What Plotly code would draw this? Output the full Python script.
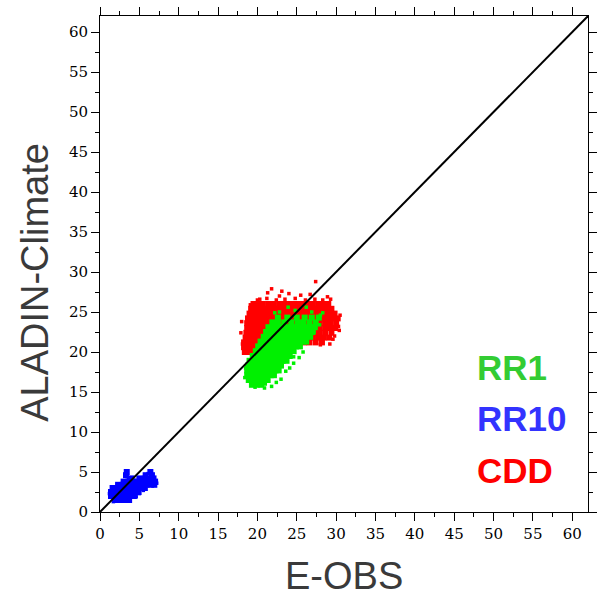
import plotly.graph_objects as go

# ---- data ----
ticks = [0, 5, 10, 15, 20, 25, 30, 35, 40, 45, 50, 55, 60]
diag_x = [0, 62]
diag_y = [0, 62]

# RR10 (blue)
rr10_rows = {
    1.5: [1.9, 2.5, 3.1, 3.7],
    2.0: [1.4, 2.0, 2.6, 3.2, 3.8, 4.3],
    2.5: [1.4, 2.0, 2.6, 3.2, 3.8, 4.4, 4.9],
    3.0: [1.6, 2.2, 2.8, 3.4, 4.0, 4.6, 5.2, 5.7],
    3.4: [2.3, 2.9, 3.5, 4.1, 4.7, 5.3, 5.9, 6.5, 6.9],
    3.8: [3.0, 3.6, 4.2, 4.8, 5.4, 6.0, 6.6, 7.0],
    4.2: [4.0, 5.0, 5.7, 6.3, 6.8],
    4.6: [3.3, 5.8, 6.6],
    5.0: [3.4, 6.4],
}
rr10_fringe_x = [1.2, 1.7, 4.6, 5.0, 5.5, 7.2, 6.1, 2.2, 3.6, 4.8]
rr10_fringe_y = [2.3, 1.3, 1.9, 2.3, 2.7, 3.6, 4.8, 3.4, 4.1, 3.9]

# CDD (red)
cdd_rows = {
    20.0: [18.4, 19.0, 19.6],
    20.6: [18.3, 18.9, 19.5, 20.1],
    21.2: [18.3, 18.9, 19.5, 20.1, 25.9, 26.6, 27.4, 28.2],
    21.8: [18.5, 19.1, 19.7, 20.3, 20.9, 26.3, 27.0, 27.7, 28.4, 29.1],
    22.4: [18.6, 19.2, 19.8, 20.4, 21.0, 26.6, 27.2, 27.9, 28.6, 29.4],
    23.0: [18.7, 19.3, 19.9, 20.5, 21.1, 21.7, 22.5, 23.3, 24.1, 24.9, 25.7, 26.5, 27.2, 27.9, 28.6, 29.3, 29.9],
    23.6: [18.7, 19.3, 19.9, 20.5, 21.1, 21.7, 22.3, 23.0, 23.7, 24.4, 25.1, 25.8, 26.5, 27.2, 27.9, 28.6, 29.3, 30.0],
    24.2: [18.8, 19.4, 20.0, 20.6, 21.2, 21.8, 22.4, 23.0, 23.6, 24.2, 24.8, 25.4, 26.0, 26.6, 27.2, 27.8, 28.4, 29.0, 29.6, 30.2],
    24.8: [19.0, 19.6, 20.2, 20.8, 21.4, 22.0, 22.6, 23.2, 23.8, 24.4, 25.0, 25.6, 26.2, 26.8, 27.4, 28.0, 28.6, 29.2, 29.8],
    25.4: [19.2, 19.8, 20.4, 21.0, 21.6, 22.2, 22.8, 23.4, 24.0, 24.6, 25.2, 25.8, 26.4, 27.0, 27.6, 28.2, 28.8, 29.4],
    26.0: [19.5, 20.1, 20.7, 21.4, 22.1, 22.8, 23.5, 24.2, 24.9, 25.6, 26.3, 27.0, 27.7, 28.4, 29.0],
}
cdd_fringe_x = [20.3, 21.2, 22.4, 23.5, 24.8, 26.1, 27.3, 28.3, 21.3, 27.4, 22.8, 25.5, 29.3, 30.3, 29.6,
                18.1, 17.9, 18.0, 19.1, 20.0, 24.0, 26.7, 28.9, 30.5, 30.4, 29.8, 29.2, 28.0, 23.1, 21.8]
cdd_fringe_y = [26.6, 26.7, 26.5, 26.6, 26.7, 26.5, 26.6, 26.5, 27.4, 28.8, 27.0, 27.1, 26.6, 23.2, 21.6,
                21.0, 22.4, 23.8, 25.9, 26.5, 27.3, 27.2, 26.9, 24.6, 22.7, 22.0, 21.0, 20.9, 27.6, 27.9]

# RR1 (green)
rr1_rows = {
    15.9: [19.3, 19.9, 20.5],
    16.5: [18.9, 19.5, 20.1, 20.7, 21.3],
    17.1: [18.7, 19.3, 19.9, 20.5, 21.1, 21.7, 22.1],
    17.7: [18.7, 19.3, 19.9, 20.5, 21.1, 21.7, 22.3, 22.7],
    18.3: [18.8, 19.4, 20.0, 20.6, 21.2, 21.8, 22.4, 23.0],
    18.9: [19.0, 19.6, 20.2, 20.8, 21.4, 22.0, 22.6, 23.2, 23.7],
    19.5: [19.4, 20.0, 20.6, 21.2, 21.8, 22.4, 23.0, 23.6, 24.1],
    20.1: [19.8, 20.4, 21.0, 21.6, 22.2, 22.8, 23.4, 24.0, 24.6],
    20.7: [20.1, 20.7, 21.3, 21.9, 22.5, 23.1, 23.7, 24.3, 24.9, 25.4],
    21.3: [20.4, 21.0, 21.6, 22.2, 22.8, 23.4, 24.0, 24.6, 25.2, 25.8, 26.2],
    21.9: [20.8, 21.4, 22.0, 22.6, 23.2, 23.8, 24.4, 25.0, 25.6, 26.2, 26.7],
    22.5: [21.1, 21.7, 22.3, 22.9, 23.5, 24.1, 24.7, 25.3, 25.9, 26.5, 27.0],
    23.1: [21.4, 22.0, 22.6, 23.2, 23.8, 24.4, 25.0, 25.6, 26.2, 26.8, 27.3],
    23.7: [21.9, 22.6, 23.4, 24.3, 25.1, 25.8, 26.6, 27.4],
    24.3: [22.6, 23.8, 25.0, 26.0, 26.9, 27.8],
}
rr1_fringe_x = [24.6, 24.6, 23.6, 22.4, 25.8, 27.2, 28.0, 24.8, 26.2, 22.8, 21.8, 23.0, 20.9, 18.4, 18.5,
                25.3, 27.9, 28.3, 26.9, 24.1, 21.0, 19.7, 23.9, 22.2]
rr1_fringe_y = [18.6, 19.4, 17.6, 16.2, 20.0, 22.5, 24.6, 25.2, 25.6, 25.0, 15.7, 16.6, 15.5, 16.8, 18.0,
                19.3, 23.4, 24.9, 25.0, 18.0, 16.0, 15.6, 25.6, 24.9]

legend_labels = ["RR1", "RR10", "CDD"]
legend_colors = ["#33cc33", "#3333ff", "#ff0000"]


def flatten(rows):
    xs, ys = [], []
    for y, xl in rows.items():
        for x in xl:
            xs.append(x)
            ys.append(y)
    return xs, ys


bx, by = flatten(rr10_rows)
rx, ry = flatten(cdd_rows)
gx, gy = flatten(rr1_rows)

fig = go.Figure()
mk = dict(symbol="square", size=6, line=dict(width=0))
mf = dict(symbol="square", size=3.5, line=dict(width=0))
fig.add_trace(go.Scatter(x=bx, y=by, mode="markers", marker=dict(color="#0000ff", **mk), showlegend=False))
fig.add_trace(go.Scatter(x=rr10_fringe_x, y=rr10_fringe_y, mode="markers", marker=dict(color="#0000ff", **mf), showlegend=False))
fig.add_trace(go.Scatter(x=rx, y=ry, mode="markers", marker=dict(color="#ff0000", **mk), showlegend=False))
fig.add_trace(go.Scatter(x=cdd_fringe_x, y=cdd_fringe_y, mode="markers", marker=dict(color="#ff0000", **mf), showlegend=False))
fig.add_trace(go.Scatter(x=gx, y=gy, mode="markers", marker=dict(color="#00f000", **mk), showlegend=False))
fig.add_trace(go.Scatter(x=rr1_fringe_x, y=rr1_fringe_y, mode="markers", marker=dict(color="#00f000", **mf), showlegend=False))
fig.add_trace(go.Scatter(x=diag_x, y=diag_y, mode="lines", line=dict(color="black", width=2), showlegend=False))

axis_common = dict(
    range=[0, 62], tickvals=ticks, ticks="outside", ticklen=8, tickwidth=1, tickcolor="black",
    showline=True, linecolor="black", linewidth=1, mirror="ticks", showgrid=False, zeroline=False,
    tickfont=dict(family="DejaVu Serif", size=15, color="black"),
    minor=dict(dtick=2.5, tick0=0, ticks="outside", ticklen=4, tickcolor="black", showgrid=False),
)
fig.update_xaxes(**axis_common)
fig.update_yaxes(**axis_common)

annotations = [
    dict(text="E-OBS", x=0.5, y=0, xref="paper", yref="paper", yanchor="middle", xanchor="center",
         yshift=-64, showarrow=False, font=dict(family="Liberation Sans", size=38, color="#3a3a3a")),
    dict(text="ALADIN-Climate", x=0, y=0.462, xref="paper", yref="paper", xanchor="center", yanchor="middle",
         xshift=-65, textangle=-90, showarrow=False, font=dict(family="Liberation Sans", size=38, color="#3a3a3a")),
]
leg_y = [18.1, 11.75, 5.25]
for lab, col, yy in zip(legend_labels, legend_colors, leg_y):
    annotations.append(dict(text="<b>%s</b>" % lab, x=47.7, y=yy, xref="x", yref="y", xanchor="left",
                            yanchor="middle", showarrow=False,
                            font=dict(family="Liberation Sans", size=35, color=col)))

fig.update_layout(
    width=599, height=600, margin=dict(l=100, r=2, t=16, b=88),
    plot_bgcolor="white", paper_bgcolor="white", annotations=annotations,
)

fig.write_html("out.html")
